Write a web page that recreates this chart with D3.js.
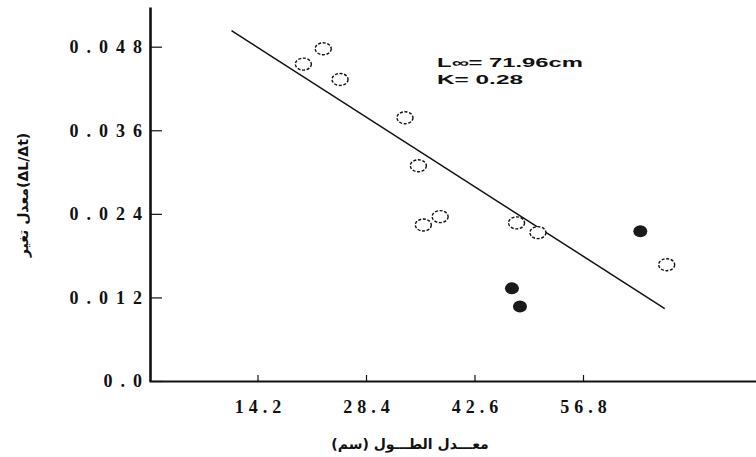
<!DOCTYPE html>
<html>
<head>
<meta charset="utf-8">
<script src="https://cdn.jsdelivr.net/npm/d3@7"></script>
<style>
  html, body { margin: 0; padding: 0; background: #fff; }
  svg { display: block; }
</style>
</head>
<body>
<svg id="chart" width="756" height="457"></svg>
<script>
// Mean length (cm) vs growth rate ΔL/Δt
const openLength = [20.2, 22.8, 25.0, 33.5, 35.25, 38.1, 35.9, 48.1, 50.9, 67.75];
const openRate   = [0.0455, 0.0477, 0.0433, 0.0378, 0.0309, 0.0236, 0.0224, 0.0227, 0.0213, 0.0167];
const filledLength = [64.3, 47.5, 48.55];
const filledRate   = [0.0215, 0.0133, 0.0107];
const fitLength = [10.8, 67.5];
const fitRate   = [0.0503, 0.0104];
const xTicks = [14.2, 28.4, 42.6, 56.8];
const xTickLabels = ["14.2", "28.4", "42.6", "56.8"];
const yTicks = [0, 0.012, 0.024, 0.036, 0.048];
const yTickLabels = ["0.0", "0.012", "0.024", "0.036", "0.048"];
const paramLines = ["L\u221E= 71.96cm", "K= 0.28"];
const xTitle = "معـــدل الطـــول (سم)";
const yTitle = "(ΔL/Δt)معدل تغير";

const svg = d3.select("#chart");
const x0 = 149, y0 = 381;
const x = d3.scaleLinear().domain([0, 80]).range([x0, x0 + 80 * 108.5 / 14.2]);
const y = d3.scaleLinear().domain([0, 0.0537]).range([y0, 7]);

const ink = "#111";

// x axis: ticks pointing into the plot
const xAxis = svg.append("g")
  .attr("transform", `translate(0,${y0})`)
  .call(d3.axisBottom(x).tickValues(xTicks)
    .tickFormat((d, i) => xTickLabels[i])
    .tickSizeInner(-6).tickSizeOuter(0).tickPadding(19));
xAxis.select(".domain").attr("stroke", ink).attr("stroke-width", 2);
xAxis.selectAll(".tick line").attr("stroke", ink).attr("stroke-width", 1.2);
xAxis.selectAll(".tick text")
  .attr("fill", ink)
  .attr("dx", 2.5)
  .style("font-family", "'Liberation Serif', 'DejaVu Serif', serif")
  .style("font-weight", "bold")
  .style("font-size", "18px")
  .style("letter-spacing", "5px");

// y axis: ticks pointing into the plot
const yAxis = svg.append("g")
  .attr("transform", `translate(${x0 + 1},0)`)
  .call(d3.axisLeft(y).tickValues(yTicks)
    .tickFormat((d, i) => yTickLabels[i])
    .tickSizeInner(-12).tickSizeOuter(0).tickPadding(0));
yAxis.select(".domain").attr("stroke", ink).attr("stroke-width", 2.6);
yAxis.selectAll(".tick line").attr("stroke", ink).attr("stroke-width", 1.2);
yAxis.selectAll(".tick text")
  .attr("fill", ink)
  .style("font-family", "'Liberation Serif', 'DejaVu Serif', serif")
  .style("font-weight", "bold")
  .style("font-size", "18px")
  .style("letter-spacing", "8px");

// regression line
svg.append("line")
  .attr("x1", x(fitLength[0])).attr("y1", y(fitRate[0]))
  .attr("x2", x(fitLength[1])).attr("y2", y(fitRate[1]))
  .attr("stroke", ink).attr("stroke-width", 1.5);

// open markers
svg.append("g").selectAll("ellipse")
  .data(openLength.map((v, i) => [v, openRate[i]]))
  .join("ellipse")
  .attr("cx", d => x(d[0])).attr("cy", d => y(d[1]))
  .attr("rx", 8).attr("ry", 6)
  .attr("fill", "#fff")
  .attr("stroke", ink).attr("stroke-width", 1.4)
  .attr("stroke-dasharray", "3,1.6");

// filled markers
svg.append("g").selectAll("ellipse")
  .data(filledLength.map((v, i) => [v, filledRate[i]]))
  .join("ellipse")
  .attr("cx", d => x(d[0])).attr("cy", d => y(d[1]))
  .attr("rx", 7).attr("ry", 6)
  .attr("fill", "#1a1a1a");

// growth parameters
svg.append("g").selectAll("text")
  .data(paramLines)
  .join("text")
  .attr("x", 437).attr("y", (d, i) => 67 + i * 17)
  .attr("textLength", (d, i) => i === 0 ? 146 : 86)
  .attr("lengthAdjust", "spacingAndGlyphs")
  .attr("fill", ink)
  .style("font-family", "'Liberation Sans', Arial, sans-serif")
  .style("font-weight", "bold")
  .style("font-size", "12.5px")
  .text(d => d);

// axis titles
svg.append("text")
  .attr("x", 410).attr("y", 449)
  .attr("text-anchor", "middle")
  .attr("direction", "rtl")
  .attr("fill", ink)
  .style("font-family", "'DejaVu Sans', sans-serif")
  .style("font-weight", "bold")
  .style("font-size", "14px")
  .text(xTitle);

svg.append("text")
  .attr("transform", "translate(28,195) rotate(-90)")
  .attr("text-anchor", "middle")
  .attr("direction", "rtl")
  .attr("fill", ink)
  .style("font-family", "'DejaVu Sans', sans-serif")
  .style("font-weight", "bold")
  .style("font-size", "14px")
  .text(yTitle);
</script>
</body>
</html>
